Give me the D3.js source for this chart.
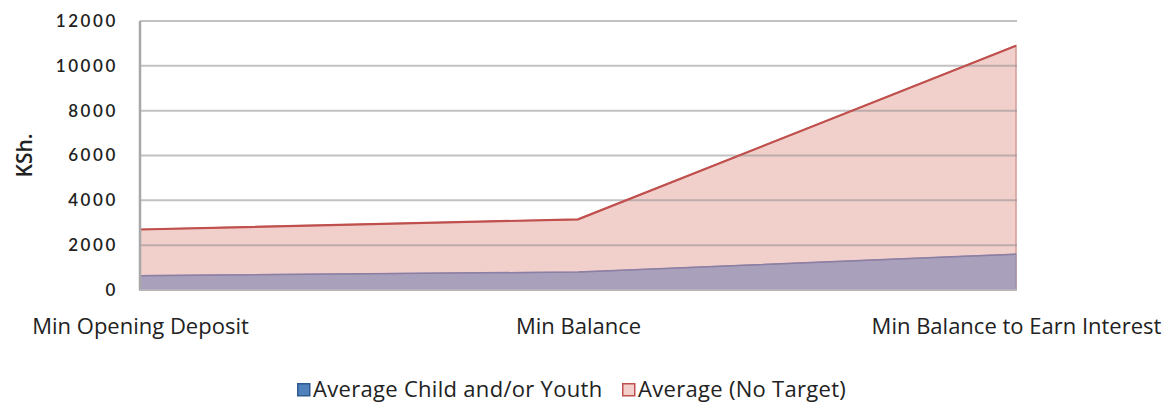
<!DOCTYPE html>
<html>
<head>
<meta charset="utf-8">
<script src="https://cdn.jsdelivr.net/npm/d3@7"></script>
<style>
  html, body { margin: 0; padding: 0; background: #ffffff; }
  svg { display: block; }
</style>
</head>
<body>
<div id="chart"></div>
<script>
const categories = ["Min Opening Deposit", "Min Balance", "Min Balance to Earn Interest"];
const childYouth = [640, 800, 1600];
const noTarget = [2700, 3150, 10900];
const yTicks = [0, 2000, 4000, 6000, 8000, 10000, 12000];
const seriesNames = ["Average Child and/or Youth", "Average (No Target)"];

const W = 1164, H = 405;
const margin = { left: 140, right: 148, top: 21, bottom: 115 };

const svg = d3.select("#chart").append("svg").attr("width", W).attr("height", H);

const x = d3.scalePoint().domain(categories).range([margin.left, W - margin.right]);
const y = d3.scaleLinear().domain([0, 12000]).range([H - margin.bottom, margin.top]);

const areaFn = vals => d3.area()
  .x((d, i) => x(categories[i]))
  .y0(y(0))
  .y1(d => y(d))(vals);
const lineFn = vals => d3.line()
  .x((d, i) => x(categories[i]))
  .y(d => y(d))(vals);

svg.append("path").attr("d", areaFn(noTarget))
  .attr("fill", "#f1d0cc").attr("stroke", "#d49a96").attr("stroke-width", 1.5);
svg.append("path").attr("d", areaFn(childYouth))
  .attr("fill", "#a9a1bb").attr("stroke", "#9a8fae").attr("stroke-width", 1.2);

// gridlines over the areas
const grid = svg.append("g");
grid.selectAll("line").data(yTicks.filter(t => t > 0)).join("line")
  .attr("x1", margin.left).attr("x2", W - margin.right + 1)
  .attr("y1", d => y(d)).attr("y2", d => y(d))
  .attr("stroke", "#8f8f8f").attr("stroke-opacity", 0.55).attr("stroke-width", 2);

svg.append("path").attr("d", lineFn(childYouth))
  .attr("fill", "none").attr("stroke", "#8d7fa3").attr("stroke-width", 1.5);
svg.append("path").attr("d", lineFn(noTarget))
  .attr("fill", "none").attr("stroke", "#c0504d").attr("stroke-width", 2.2);

svg.append("line").attr("x1", margin.left).attr("x2", margin.left)
  .attr("y1", y(12000)).attr("y2", y(0)).attr("stroke", "#a8a8a8").attr("stroke-width", 2.5);
svg.append("line").attr("x1", margin.left).attr("x2", W - margin.right + 1)
  .attr("y1", y(0)).attr("y2", y(0)).attr("stroke", "#bbbbbb").attr("stroke-width", 1.5);

// y axis
const yAxis = d3.axisLeft(y).tickValues(yTicks).tickSize(0).tickPadding(22).tickFormat(d3.format("d"));
const gy = svg.append("g").attr("transform", `translate(${margin.left},0)`).call(yAxis);
gy.select(".domain").remove();
gy.selectAll("text").attr("font-family", "Lato, sans-serif").attr("font-size", 17)
  .attr("letter-spacing", "2.6px").attr("fill", "#222").attr("font-weight", 600);

// x axis
const xAxis = d3.axisBottom(x).tickSize(0).tickPadding(28);
const gx = svg.append("g").attr("transform", `translate(0,${y(0)})`).call(xAxis);
gx.select(".domain").remove();
gx.selectAll("text").attr("font-family", "'Open Sans', sans-serif").attr("font-size", 22)
  .attr("fill", "#222");

// y title
svg.append("text").attr("transform", `translate(32,${(y(0) + y(12000)) / 2}) rotate(-90)`)
  .attr("text-anchor", "middle").attr("font-family", "'Open Sans', sans-serif")
  .attr("font-size", 21).attr("font-weight", 600).attr("fill", "#222").text("KSh.");

// legend
const legend = svg.append("g");
const legItems = [
  { name: seriesNames[0], fill: "#4f81bd", stroke: "#2e5a8f", x: 297 },
  { name: seriesNames[1], fill: "#f2cfcb", stroke: "#c0504d", x: 622 }
];
legItems.forEach(it => {
  const g = legend.append("g").attr("transform", `translate(${it.x},383)`);
  g.append("rect").attr("x", 0.75).attr("y", 0.75).attr("width", 12).attr("height", 12)
    .attr("fill", it.fill).attr("stroke", it.stroke).attr("stroke-width", 1.5);
  g.append("text").attr("x", 16).attr("y", 13.5).attr("font-family", "'Open Sans', sans-serif")
    .attr("font-size", 22).attr("fill", "#222").attr("letter-spacing", "0.3px").text(it.name);
});
</script>
</body>
</html>
